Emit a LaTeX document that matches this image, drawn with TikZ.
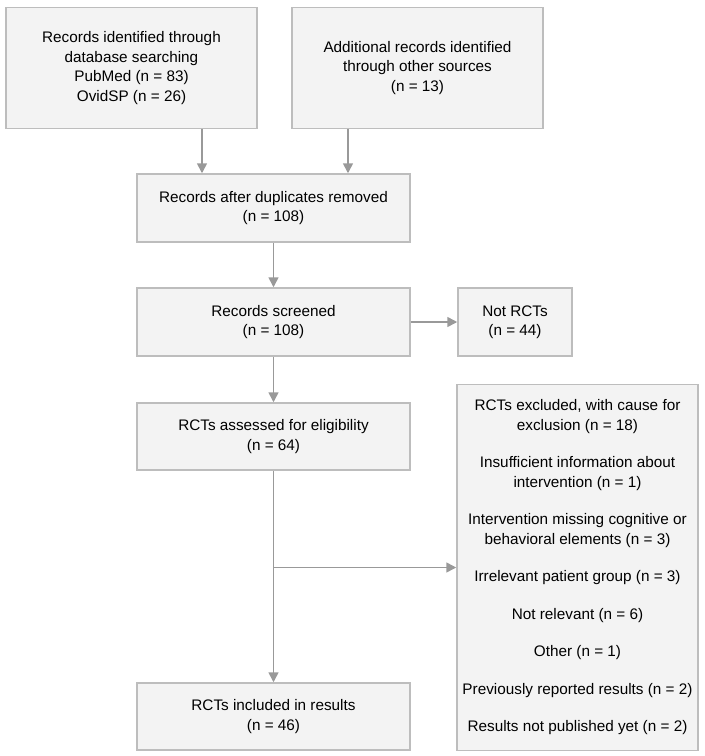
\documentclass[tikz,border=0pt]{standalone}
\usepackage{fontspec}
\setmainfont{Liberation Sans}
\usetikzlibrary{arrows.meta}

\definecolor{boxfill}{HTML}{F3F3F3}
\definecolor{boxline}{HTML}{BDBDBD}
\definecolor{flowgray}{HTML}{999999}

\begin{document}
\begin{tikzpicture}[x=1pt,y=1pt,
    box/.style={draw=boxline,fill=boxfill,line width=1.5pt,align=center,
                inner sep=0pt,font=\fontsize{15.3}{19.5}\selectfont},
    flow/.style={draw=flowgray,line width=1.6pt,-{Triangle[length=10pt,width=10pt]}}]
            \useasboundingbox (0,0) rectangle (705,-756);

            % identification
            \node[box,minimum width=251,minimum height=121] (src1) at (131.5,-68)
                {Records identified through\\database searching\\PubMed (n = 83)\\OvidSP (n = 26)};
            \node[box,minimum width=251,minimum height=121] (src2) at (417.5,-68)
                {Additional records identified\\through other sources\\(n = 13)};

            % screening
            \node[box,minimum width=273,minimum height=68] (dup) at (273.5,-208)
                {Records after duplicates removed\\(n = 108)};
            \node[box,minimum width=273,minimum height=68] (scr) at (273.5,-322)
                {Records screened\\(n = 108)};
            \node[box,minimum width=114,minimum height=68] (notrct) at (515,-322)
                {Not RCTs\\(n = 44)};

            % eligibility and inclusion
            \node[box,minimum width=273,minimum height=67] (elig) at (273.5,-436.5)
                {RCTs assessed for eligibility\\(n = 64)};
            \node[box,minimum width=273,minimum height=67] (incl) at (273.5,-716.5)
                {RCTs included in results\\(n = 46)};
            \node[box,minimum width=241,minimum height=366] (excl) at (577.5,-567.5)
                {RCTs excluded, with cause for\\exclusion (n = 18)\\[18pt]
                 Insufficient information about\\intervention (n = 1)\\[18pt]
                 Intervention missing cognitive or\\behavioral elements (n = 3)\\[18pt]
                 Irrelevant patient group (n = 3)\\[18pt]
                 Not relevant (n = 6)\\[18pt]
                 Other (n = 1)\\[18pt]
                 Previously reported results (n = 2)\\[18pt]
                 Results not published yet (n = 2)};

            \coordinate (in1) at ([xshift=-71.5pt]dup.north);
            \coordinate (in2) at ([xshift=74.5pt]dup.north);
            \coordinate (branch) at (elig.south |- excl.west);

            \draw[flow] (in1 |- src1.south) -- (in1);
            \draw[flow] (in2 |- src2.south) -- (in2);
            \draw[flow] (dup) -- (scr);
            \draw[flow] (scr) -- (notrct);
            \draw[flow] (scr) -- (elig);
            \draw[flow] (elig) -- (incl);
            \draw[flow] (branch) -- (excl.west);
        \end{tikzpicture}
\end{document}
